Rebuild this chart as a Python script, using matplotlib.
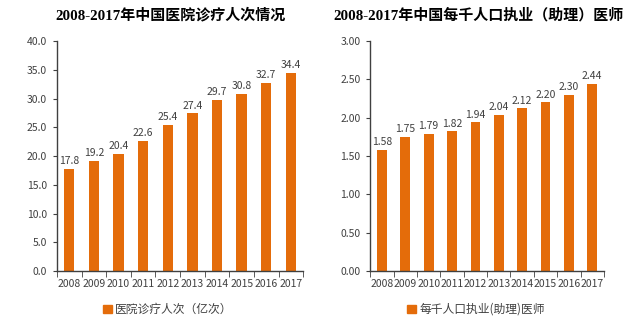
import matplotlib
matplotlib.use("Agg")
from matplotlib import pyplot as plt
from matplotlib.patches import Patch
import numpy as np

plt.rcParams['font.family'] = ['Noto Sans CJK SC', 'DejaVu Sans']

years = ['2008', '2009', '2010', '2011', '2012', '2013', '2014', '2015', '2016', '2017']
visits = [17.8, 19.2, 20.4, 22.6, 25.4, 27.4, 29.7, 30.8, 32.7, 34.4]
doctors = [1.58, 1.75, 1.79, 1.82, 1.94, 2.04, 2.12, 2.20, 2.30, 2.44]

bar_color = '#E46C0A'
txt_color = '#404040'

fig = plt.figure(figsize=(6.33, 3.23), dpi=100)
ax1 = fig.add_axes([0.090, 0.161, 0.389, 0.712])
ax2 = fig.add_axes([0.585, 0.161, 0.369, 0.712])


def draw(ax, vals, ymax, step, fmt, title, title_x, legend_label, legend_x):
    x = np.arange(len(years))
    ax.bar(x, vals, width=0.42, color=bar_color)
    for xi, v in zip(x, vals):
        ax.text(xi, v + ymax * 0.012, fmt.format(v), ha='center', va='bottom',
                fontsize=7.5, color=txt_color)
    ax.set_xlim(-0.5, len(years) - 0.5)
    ax.set_ylim(0, ymax)
    ax.set_yticks(np.arange(0, ymax + step / 2, step))
    ax.set_yticklabels([fmt.format(t) for t in np.arange(0, ymax + step / 2, step)],
                       fontsize=7.5, color=txt_color)
    ax.set_xticks(x)
    ax.set_xticklabels(years, fontsize=7.5, color=txt_color)
    ax.tick_params(axis='x', which='major', length=0, pad=6)
    ax.set_xticks(np.arange(-0.5, len(years)), minor=True)
    ax.tick_params(axis='x', which='minor', length=4, color='#404040')
    ax.tick_params(axis='y', length=3, color='#404040', pad=4)
    for s in ['top', 'right']:
        ax.spines[s].set_visible(False)
    for s in ['left', 'bottom']:
        ax.spines[s].set_color('#404040')
        ax.spines[s].set_linewidth(1.0)
    fig.text(title_x, 1 - 15 / 323, title, fontsize=10.8, fontweight='bold',
             ha='center', va='center',
             family=['Liberation Serif', 'Noto Sans CJK SC'])
    fig.legend(handles=[Patch(color=bar_color, label=legend_label)],
               loc='upper center', bbox_to_anchor=(legend_x, 0.095), frameon=False,
               fontsize=8.5, handlelength=0.7, handleheight=0.7, handletextpad=0.3,
               labelcolor=txt_color)


draw(ax1, visits, 40.0, 5.0, '{:.1f}', '2008-2017年中国医院诊疗人次情况',
     171 / 633, '医院诊疗人次（亿次）', 168 / 633)
draw(ax2, doctors, 3.00, 0.5, '{:.2f}', '2008-2017年中国每千人口执业（助理）医师',
     479 / 633, '每千人口执业(助理)医师', 476 / 633)

fig.savefig('out.png', dpi=100, facecolor='white')
